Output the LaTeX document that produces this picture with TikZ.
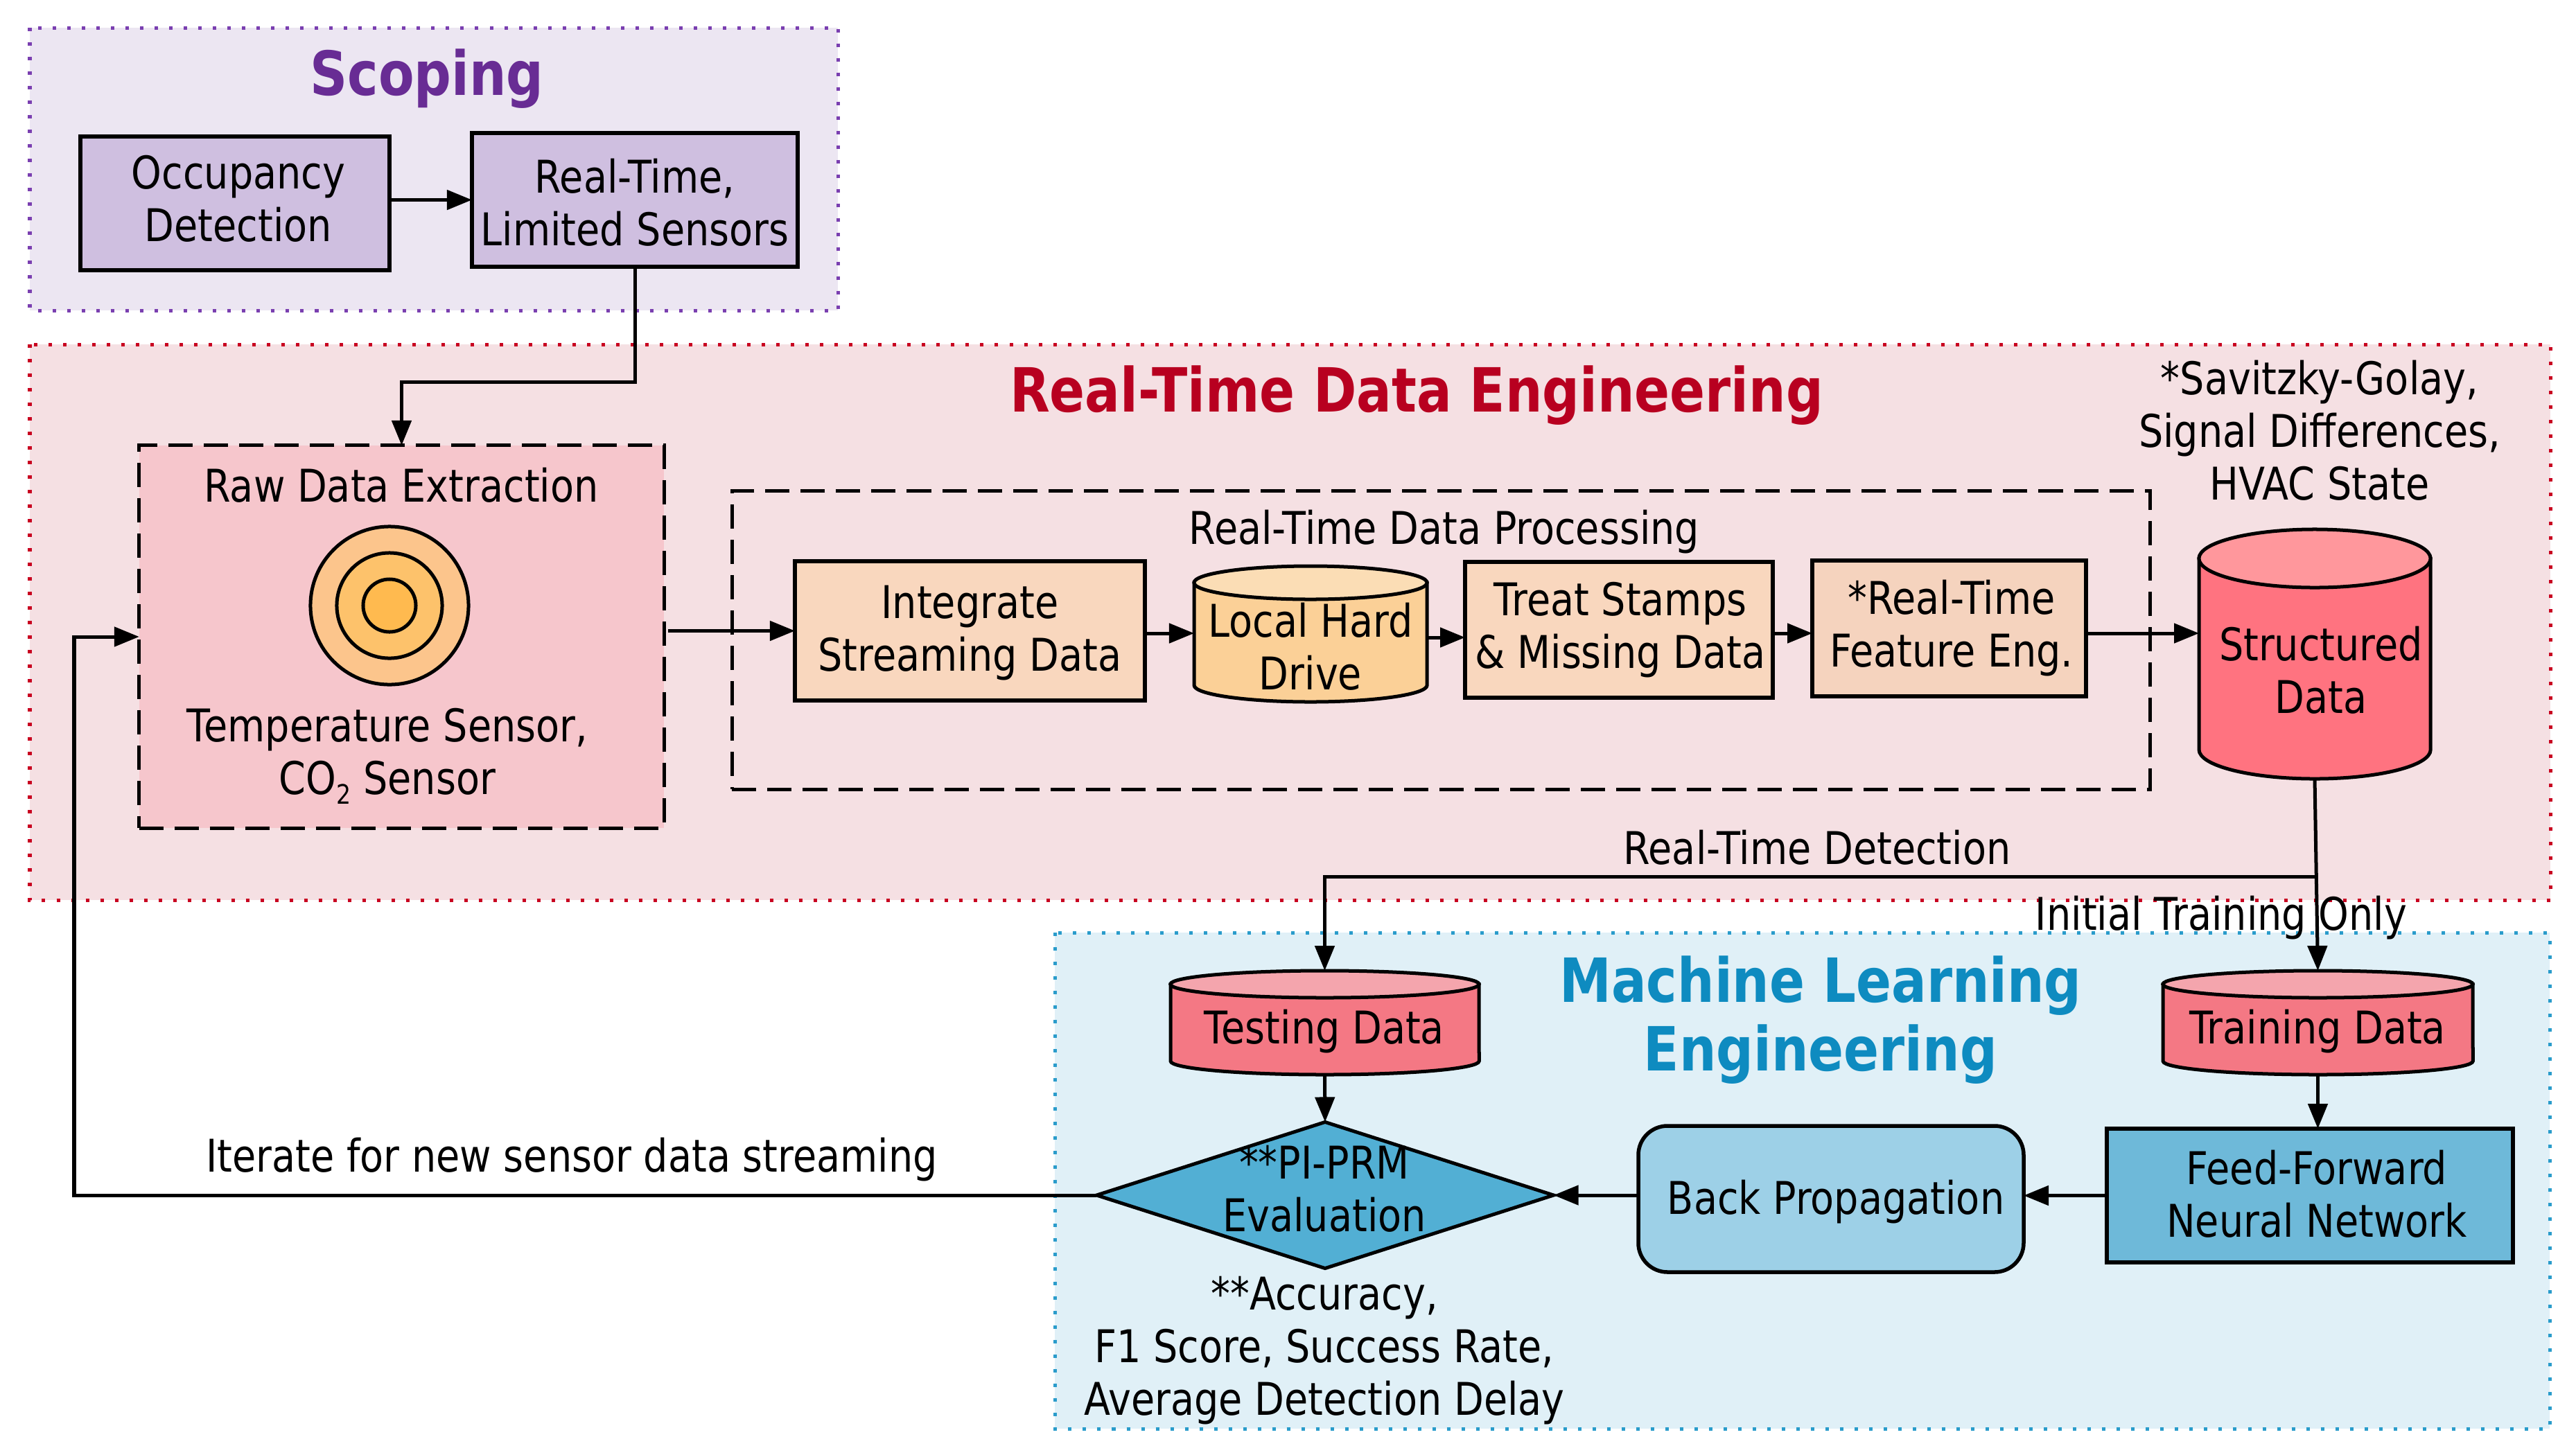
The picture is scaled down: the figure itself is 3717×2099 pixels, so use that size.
\documentclass[tikz,border=0pt]{standalone}
\usepackage{fontspec}
\setmainfont[FakeStretch=0.855]{DejaVu Sans}
\usetikzlibrary{arrows.meta,shapes.geometric,calc}
\definecolor{scopebg}{HTML}{ECE6F2}
\definecolor{scopeln}{HTML}{7A3FB0}
\definecolor{scopebox}{HTML}{CFBFE0}
\definecolor{scopett}{HTML}{682C94}
\definecolor{rtbg}{HTML}{F5E0E3}
\definecolor{rtln}{HTML}{C80020}
\definecolor{rttt}{HTML}{B80020}
\definecolor{rawbg}{HTML}{F6C6CC}
\definecolor{peach}{HTML}{F9D7BE}
\definecolor{peachb}{HTML}{F5D3BE}
\definecolor{mlbg}{HTML}{E0F0F7}
\definecolor{mlln}{HTML}{2A9CCB}
\definecolor{mltt}{HTML}{0E8BC0}
\definecolor{dia}{HTML}{52AFD4}
\definecolor{bp}{HTML}{9DD0E7}
\definecolor{ffnn}{HTML}{6EB9D9}
\tikzset{
  x=0.01cm,y=-0.01cm,
  txt/.style={font=\fontsize{18.5}{21.6}\selectfont,align=center,text=black,inner sep=0pt,outer sep=0pt},
  ttl/.style={font=\fontsize{25}{28.2}\selectfont\bfseries,align=center,inner sep=0pt},
  panel/.style={dash pattern=on .05cm off .16cm,line width=.05cm},
  blk/.style={draw=black,line width=.055cm,inner sep=0pt,outer sep=0pt},
  dsh/.style={draw=black,line width=.05cm,dash pattern=on .35cm off .16cm},
  arr/.style={draw=black,line width=.05cm,-{Stealth[length=.36cm,width=.28cm,inset=0pt]}},
}
% name x1 y1 x2 y2 style textpos text
\newcommand\bx[8]{%
  \node[blk,minimum width={(#4-#2)*0.01cm},minimum height={(#5-#3)*0.01cm},#6] (#1) at ({(#2+#4)/2},{(#3+#5)/2}) {};
  \node[txt] (#1t) at (#7) {#8};}
% name x1 y1 x2 y2 ry body top text-pos (text in \cyltext)
\newcommand\cyl[9]{%
  \pgfmathsetmacro\crx{(#4-#2)/200}%
  \pgfmathsetmacro\cry{#6/100}%
  \pgfmathsetmacro\cty{#3+#6}%
  \pgfmathsetmacro\cby{#5-#6}%
  \pgfmathsetmacro\ccx{(#2+#4)/2}%
  \draw[black,line width=.05cm,fill=#7] (#2,\cty) -- (#2,\cby) arc[start angle=180,end angle=360,x radius=\crx cm,y radius=\cry cm] -- (#4,\cty) -- cycle;
  \draw[black,line width=.05cm,fill=#8] (\ccx,\cty) ellipse[x radius=\crx cm,y radius=\cry cm];
  \node[minimum width={(#4-#2)*0.01cm},minimum height={(#5-#3)*0.01cm},inner sep=0pt,outer sep=0pt] (#1) at (\ccx,{(#3+#5)/2}) {};
  \node[txt] (#1t) at (#9) {\cyltext};}
\begin{document}
\begin{tikzpicture}
\useasboundingbox (0,0) rectangle (3717,2099);
% panels
\fill[rtbg] (43,497) rectangle (3680,1299);
\draw[rtln,panel] (43,497) rectangle (3680,1299);
\fill[scopebg] (43,40) rectangle (1209,448);
\draw[scopeln,panel] (43,40) rectangle (1209,448);
\fill[mlbg] (1522,1346) rectangle (3679,2062);
\draw[mlln,panel] (1522,1346) rectangle (3679,2062);
% titles
\node[ttl,text=scopett] (t1) at (616,114) {Scoping};
\node[ttl,text=rttt] (t2) at (2044,571) {Real-Time Data Engineering};
\node[ttl,text=mltt] (t3) at (2627,1472) {Machine Learning\\Engineering};
% scoping
\bx{occ}{116}{197}{562}{390}{fill=scopebox}{344,286.5}{Occupancy\\Detection}
\bx{rtls}{681}{192}{1151}{385}{fill=scopebox}{916,292}{Real-Time,\\Limited Sensors}
% raw
\fill[rawbg] (201,643) rectangle (958,1195);
\node[dsh,minimum width=7.57cm,minimum height=5.52cm,inner sep=0pt,outer sep=0pt] (raw) at (579.5,919) {};
\node[txt] (rawt) at (579,700) {Raw Data Extraction};
\node[circle,draw=black,line width=.05cm,minimum size=2.28cm,inner sep=0pt,fill={rgb,255:red,252;green,197;blue,140}] (c1) at (562,874) {};
\node[circle,draw=black,line width=.05cm,minimum size=1.52cm,inner sep=0pt,fill={rgb,255:red,253;green,194;blue,107}] (c2) at (562,874) {};
\node[circle,draw=black,line width=.05cm,minimum size=.76cm,inner sep=0pt,fill={rgb,255:red,255;green,186;blue,79}] (c3) at (562,874) {};
\node[txt] (sens) at (559,1091) {Temperature Sensor,\\CO\raisebox{-.4ex}{\fontsize{11}{11}\selectfont 2} Sensor};
% processing
\node[dsh,minimum width=20.45cm,minimum height=4.30cm,inner sep=0pt,outer sep=0pt] (proc) at (2079.5,924) {};
\node[txt] (proct) at (2084,768) {Real-Time Data Processing};
\bx{int}{1147}{810}{1652}{1011}{fill=peach}{1399.5,914}{Integrate\\Streaming Data}
\def\cyltext{Local Hard\\Drive}
\cyl{lhd}{1723}{817}{2059}{1013}{24}{{rgb,255:red,251;green,208;blue,151}}{{rgb,255:red,251;green,221;blue,181}}{1891,933}
\bx{trt}{2114}{811}{2558}{1007}{fill=peach}{2338,909}{Treat Stamps\\\& Missing Data}
\bx{fe}{2615}{809}{3010}{1005}{fill=peachb}{2816,907}{*Real-Time\\Feature Eng.}
\def\cyltext{Structured\\Data}
\cyl{str}{3173}{764}{3507}{1124}{42}{{rgb,255:red,255;green,115;blue,128}}{{rgb,255:red,255;green,151;blue,156}}{3349,967}
\node[txt] (sav) at (3347,621) {*Savitzky-Golay,\\Signal Differences,\\HVAC State};
% ml
\def\cyltext{Testing Data}
\cyl{tst}{1689}{1401}{2134}{1551}{19.5}{{rgb,255:red,244;green,120;blue,132}}{{rgb,255:red,244;green,165;blue,173}}{1911,1489}
\def\cyltext{Training Data}
\cyl{trn}{3121}{1401}{3568}{1551}{19.5}{{rgb,255:red,244;green,120;blue,132}}{{rgb,255:red,244;green,165;blue,173}}{3344,1489}
\node[diamond,draw=black,line width=.05cm,fill=dia,inner sep=0pt,outer sep=0pt,aspect=1.8,minimum width=6.59cm,minimum height=2.11cm] (pi) at (1912,1725) {};
\node[txt] (pit) at (1911,1716) {**PI-PRM\\Evaluation};
\bx{bpr}{2364}{1625}{2920}{1836}{rounded corners=.42cm,fill=bp}{2649,1735}{Back Propagation}
\bx{ff}{3040}{1629}{3626}{1822}{fill=ffnn}{3343,1723}{Feed-Forward\\Neural Network}
\node[txt] (met) at (1911,1949) {**Accuracy,\\F1 Score, Success Rate,\\Average Detection Delay};
% labels
\node[txt] (l1) at (2622,1223) {Real-Time Detection};
\node[txt] (l2) at (3205,1325) {Initial Training Only};
\node[txt] (l3) at (825,1674) {Iterate for new sensor data streaming};
% connectors
\coordinate (b1) at (579.5,551);
\coordinate (b2) at (107,1723);
\coordinate (b3) at (3342,1265);
\coordinate (bus) at (2000,914);
\draw[arr] (occ.east |- rtls.west) -- (rtls.west);
\draw[arr] (rtls.south) |- (b1) -- (raw.north);
\draw[arr] ([xshift=.06cm]raw.east |- int.west) -- (int.west);
\draw[arr] (int.east |- bus) -- (bus -| lhd.west);
\draw[arr] ([yshift=-.05cm]lhd.east) -- ([yshift=-.05cm]lhd.east -| trt.west);
\draw[arr] (trt.east |- bus) -- (bus -| fe.west);
\draw[arr] (fe.east |- bus) -- (bus -| str.west);
\draw[arr] (str.south) -- (trn.north);
\draw[arr] (b3) -| (tst.north);
\draw[arr] (tst.south) -- (pi.north);
\draw[arr] (trn.south) -- (ff.north -| trn.south);
\draw[arr] (ff.west) -- (ff.west -| bpr.east);
\draw[arr] (bpr.west |- pi.east) -- (pi.east);
\draw[arr] (pi.west) -- (pi.west -| b2) |- (raw.west);
\end{tikzpicture}
\end{document}
